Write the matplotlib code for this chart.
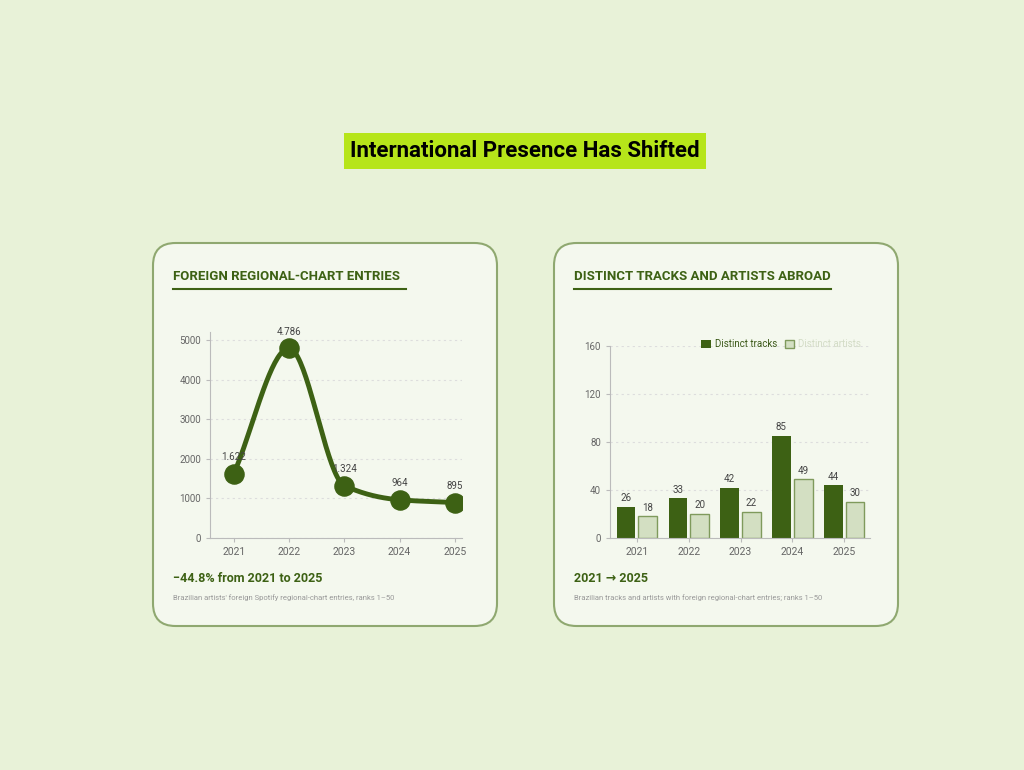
import numpy as np
import matplotlib
matplotlib.use("Agg")
import matplotlib.pyplot as plt
from matplotlib.patches import FancyBboxPatch
from matplotlib.lines import Line2D

years = ["2021", "2022", "2023", "2024", "2025"]
entries = [1622, 4786, 1324, 964, 895]
entry_labels = ["1.622", "4.786", "1.324", "964", "895"]
tracks = [26, 33, 42, 85, 44]
artists = [18, 20, 22, 49, 30]

W, H = 1024, 770
BG = "#e8f2d8"; CARD = "#f4f8ee"; BORDER = "#8fa870"; DARK = "#3d6114"; LIGHT = "#d3dfc2"
plt.rcParams['font.family'] = ['Roboto', 'DejaVu Sans']
fig = plt.figure(figsize=(W/100, H/100), dpi=100, facecolor=BG)

def fx(px): return px / W
def fy(py): return 1 - py / H

fig.text(fx(525), fy(151), "International Presence Has Shifted", ha="center", va="center",
         fontsize=16, fontweight="bold", color="black",
         bbox=dict(boxstyle="square,pad=0.3", fc="#b6e51a", ec="none"))

for x0 in (153, 554):
    fig.patches.append(FancyBboxPatch((fx(x0), fy(626)), fx(344), (626-243)/H,
        boxstyle="round,pad=0,rounding_size=0.022", transform=fig.transFigure,
        fc=CARD, ec=BORDER, lw=1.5, mutation_aspect=W/H, zorder=-5))

def card_text(x0, title, tw, big, small):
    fig.text(fx(x0+20), fy(277), title, fontsize=9.5, fontweight="bold", color=DARK, va="center")
    fig.lines.append(Line2D([fx(x0+20), fx(x0+20+tw)], [fy(289)]*2, transform=fig.transFigure, color=DARK, lw=1.5))
    fig.text(fx(x0+20), fy(579), big, fontsize=9, fontweight="bold", color=DARK, va="center")
    fig.text(fx(x0+20), fy(598), small, fontsize=5.5, color="#999999", va="center")

card_text(153, "FOREIGN REGIONAL-CHART ENTRIES", 233, "\u221244.8% from 2021 to 2025",
          "Brazilian artists' foreign Spotify regional-chart entries, ranks 1\u201350")
card_text(554, "DISTINCT TRACKS AND ARTISTS ABROAD", 257, "2021 \u2192 2025",
          "Brazilian tracks and artists with foreign regional-chart entries; ranks 1\u201350")

def style(ax, yt):
    ax.set_facecolor("none")
    ax.set_zorder(2)
    for s in ("top", "right"): ax.spines[s].set_visible(False)
    for s in ("left", "bottom"): ax.spines[s].set_color("#bbbbbb")
    ax.set_yticks(yt)
    ax.tick_params(colors="#bbbbbb", labelcolor="#666666", labelsize=7, length=3)
    ax.tick_params(axis="x", labelsize=7.5)
    ax.grid(axis="y", ls=(0, (2, 3)), color="#dddddd", lw=0.8)
    ax.set_axisbelow(True)

# Line chart
ax1 = fig.add_axes([fx(210), fy(538), fx(462-210), (538-332)/H])
x = np.arange(len(years), dtype=float); y = np.array(entries, dtype=float)
d = np.diff(y) / np.diff(x)
m = np.zeros_like(y); m[0] = d[0]; m[-1] = d[-1]
for i in range(1, len(y)-1):
    m[i] = 0 if d[i-1]*d[i] <= 0 else 2/(1/d[i-1] + 1/d[i])
xs, ys = [], []
for i in range(len(y)-1):
    t = np.linspace(0, 1, 40); h = x[i+1]-x[i]
    h00 = 2*t**3-3*t**2+1; h10 = t**3-2*t**2+t; h01 = -2*t**3+3*t**2; h11 = t**3-t**2
    xs += list(x[i]+t*h); ys += list(h00*y[i]+h10*h*m[i]+h01*y[i+1]+h11*h*m[i+1])
ax1.plot(xs, ys, color=DARK, lw=3.5, solid_capstyle="round")
ax1.scatter(x, y, s=190, color=DARK, zorder=3)
for xi, yi, lab in zip(x, y, entry_labels):
    ax1.annotate(lab, (xi, yi), xytext=(0, 10), textcoords="offset points", ha="center",
                 fontsize=7, color="#444444")
ax1.set_xlim(-0.43, 4.13); ax1.set_ylim(0, 5200)
style(ax1, [0, 1000, 2000, 3000, 4000, 5000])
ax1.set_xticks(x, years)

# Bar chart
ax2 = fig.add_axes([fx(610), fy(538), fx(870-610), (538-346)/H])
w = 0.36
b1 = ax2.bar(x-0.21, tracks, w, color=DARK, label="Distinct tracks", zorder=2)
b2 = ax2.bar(x+0.21, artists, w, color=LIGHT, ec="#7f9a5c", lw=1, label="Distinct artists", zorder=2)
for bars, vals in ((b1, tracks), (b2, artists)):
    for r, v in zip(bars, vals):
        ax2.annotate(str(v), (r.get_x()+r.get_width()/2, v), xytext=(0, 4), textcoords="offset points",
                     ha="center", fontsize=7, color="#444444")
ax2.set_xlim(-0.52, 4.5); ax2.set_ylim(0, 160)
style(ax2, [0, 40, 80, 120, 160])
ax2.set_xticks(x, years)
leg = ax2.legend(loc="upper right", bbox_to_anchor=(1.0, 1.08), ncol=2, frameon=False, fontsize=7,
                 handlelength=1.0, handleheight=0.9, columnspacing=0.8, handletextpad=0.4)
leg.get_texts()[0].set_color("#3d5a1a"); leg.get_texts()[1].set_color("#d3dcc6")

fig.savefig("out.png", dpi=100, facecolor=BG)
